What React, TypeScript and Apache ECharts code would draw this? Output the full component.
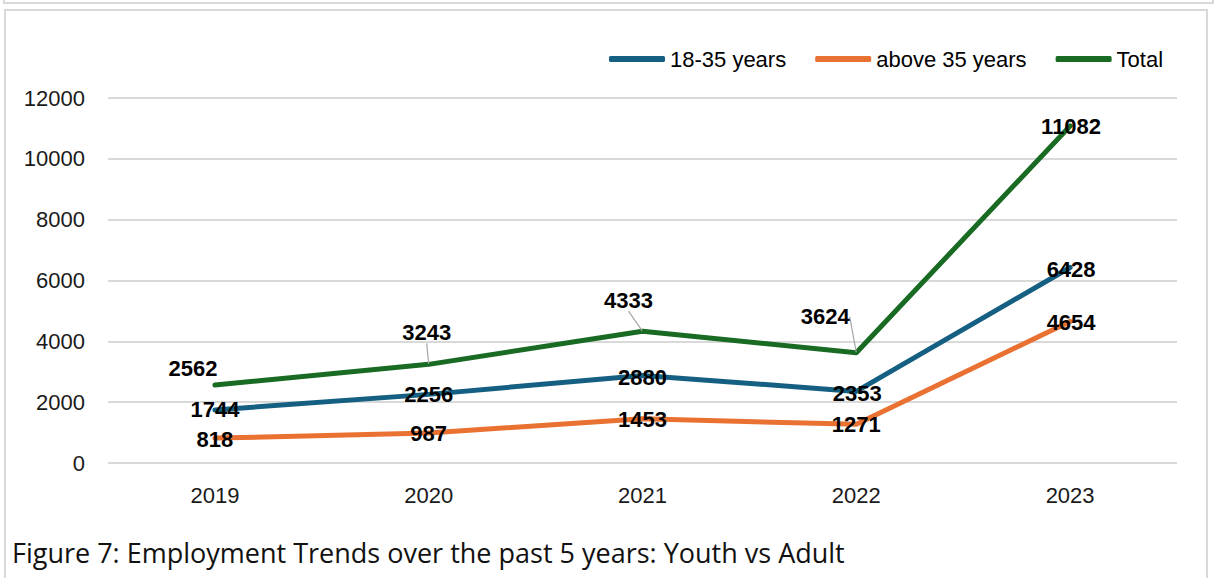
import React, { useEffect, useRef } from "react";
import * as echarts from "echarts";

// Employment by age group, 2019–2023
const years = ["2019", "2020", "2021", "2022", "2023"];
const youth = [1744, 2256, 2880, 2353, 6428];
const adults = [818, 987, 1453, 1271, 4654];
const totals = [2562, 3243, 4333, 3624, 11082];

const seriesNames = ["18-35 years", "above 35 years", "Total"];
const seriesColors = ["#156082", "#E97132", "#196B24"];
const caption = "Figure 7: Employment Trends over the past 5 years: Youth vs Adult";

// label nudges (px) relative to each point
const youthShift = [[0, 0], [0, 0], [0, 2], [1, 2], [1, 2]];
const adultShift = [[0, 1], [0, 1], [0, 1], [0, 0], [1, 1]];
const totalShift = [[-22, -17], [-2, -32], [-14, -31], [-31, -36], [1, 1]];
const totalLeader = [false, true, true, true, false];

const labelFont = {
  fontFamily: "Liberation Sans, Arial, sans-serif",
  fontSize: 22,
  fontWeight: "bold" as const,
  color: "#000",
};

export default function App() {
  const ref = useRef<HTMLDivElement>(null);

  useEffect(() => {
    if (!ref.current) return;
    const chart = echarts.init(ref.current, null, { renderer: "svg" });

    const makeSeries = (
      idx: number,
      values: number[],
      shift: number[][],
      leader?: boolean[]
    ) => ({
      name: seriesNames[idx],
      type: "line",
      data: values.map((v, i) => ({
        value: v,
        labelLine: { show: leader ? leader[i] : false },
      })),
      showSymbol: true,
      symbol: "circle",
      symbolSize: 1,
      itemStyle: { color: seriesColors[idx] },
      lineStyle: { color: seriesColors[idx], width: 5, cap: "round", join: "round" },
      label: {
        show: true,
        position: "inside",
        ...labelFont,
      },
      labelLine: {
        show: false,
        lineStyle: { color: "#a6a6a6", width: 1.2 },
      },
      labelLayout: (p: any) => ({
        dx: shift[p.dataIndex][0],
        dy: shift[p.dataIndex][1],
      }),
      emphasis: { disabled: true },
      z: 3 + idx,
    });

    chart.setOption({
      animation: false,
      backgroundColor: "#ffffff",
      grid: { left: 108, right: 43, top: 98, bottom: 115, containLabel: false },
      legend: {
        data: seriesNames.map((n) => ({ name: n })),
        left: 604,
        top: 43,
        itemWidth: 56,
        itemHeight: 6,
        itemGap: 29,
        icon: "roundRect",
        textStyle: {
          fontFamily: "Liberation Sans, Arial, sans-serif",
          fontSize: 22,
          color: "#000",
        },
      },
      xAxis: {
        type: "category",
        data: years,
        boundaryGap: true,
        axisLine: { show: false },
        axisTick: { show: false },
        axisLabel: {
          margin: 21,
          fontFamily: "Liberation Sans, Arial, sans-serif",
          fontSize: 22,
          color: "#1a1a1a",
        },
      },
      yAxis: {
        type: "value",
        min: 0,
        max: 12000,
        interval: 2000,
        axisLine: { show: false },
        axisTick: { show: false },
        splitLine: { lineStyle: { color: "#d9d9d9", width: 2 } },
        axisLabel: {
          margin: 23,
          formatter: (v: number) => String(v),
          fontFamily: "Liberation Sans, Arial, sans-serif",
          fontSize: 22,
          color: "#1a1a1a",
        },
      },
      graphic: [
        {
          type: "polyline",
          shape: { points: [[4, -2], [4, 3], [1213, 3], [1213, -2]] },
          style: { stroke: "#d9d9d9", lineWidth: 2, fill: "none" },
          silent: true,
        },
        {
          type: "rect",
          shape: { x: 5, y: 10, width: 1202, height: 580 },
          style: { stroke: "#d9d9d9", lineWidth: 2, fill: "none" },
          silent: true,
        },
        {
          type: "text",
          x: 12,
          y: 552,
          style: {
            text: caption,
            fontFamily: "Open Sans, Liberation Sans, sans-serif",
            fontSize: 27,
            fill: "#111",
            verticalAlign: "middle",
            align: "left",
          },
          silent: true,
        },
      ],
      series: [
        makeSeries(0, youth, youthShift),
        makeSeries(1, adults, adultShift),
        makeSeries(2, totals, totalShift, totalLeader),
      ],
    });

    return () => chart.dispose();
  }, []);

  return (
    <div
      ref={ref}
      style={{ position: "fixed", left: 0, top: 0, width: 1220, height: 578, background: "#fff" }}
    />
  );
}
